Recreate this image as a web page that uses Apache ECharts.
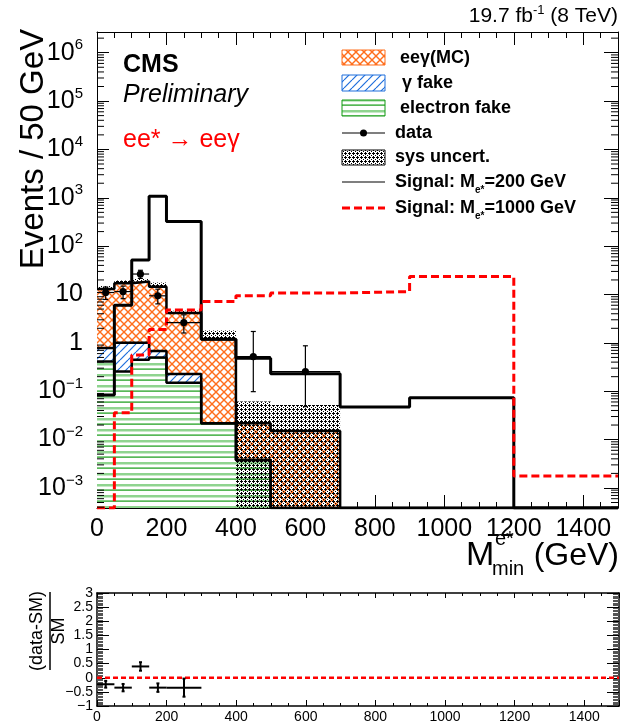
<!DOCTYPE html>
<html>
<head>
<meta charset="utf-8">
<script src="https://cdn.jsdelivr.net/npm/echarts@6.0.0/dist/echarts.min.js"></script>
<style>
html,body{margin:0;padding:0;background:#ffffff;}
#chart{width:627px;height:724px;}
</style>
</head>
<body>
<div id="chart"></div>
<script>
// ---------------- data ----------------
const binEdges     = [0, 50, 100, 150, 200, 300, 400, 500, 700, 900, 1200, 1500];
const electronFake = [0.41, 0.255, 0.45, 0.50, 0.15, 0.0217, 0.0038, 0, 0, 0, 0];
const gammaFake    = [0.37, 0.75, 0.55, 0.18, 0.078, 0, 0, 0, 0, 0, 0];
const eegammaMC    = [12.2, 16.0, 17.5, 13.8, 3.9, 1.17, 0.0179, 0.015, 0, 0, 0];
const sysUpper     = [15.0, 19.5, 21.0, 17.7, 4.6, 1.8, 0.061, 0.052, 0, 0, 0];
const sysLower     = [13.0, 17.0, 18.5, 14.5, 4.1, 1.19, 0, 0, 0, 0, 0];
const signal200    = [0.084, 6.0, 52, 1070, 325, 1.19, 0.48, 0.23, 0.047, 0.073, 0];
const signal1000   = [0, 0.036, 0.56, 1.9, 4.8, 7.2, 9.4, 10.7, 11.5, 23.6, 0.00176];
const dataX        = [25, 75, 125, 175, 250, 450, 600];
const dataXErr     = [25, 25, 25, 25, 50, 50, 100];
const dataY        = [11, 11.5, 26.5, 9.4, 2.63, 0.52, 0.255];
const dataYLow     = [7.9, 8.2, 21.5, 6.4, 1.6, 0.098, 0.048];
const dataYHigh    = [14.3, 14.9, 31.7, 12.9, 3.8, 1.72, 0.87];
const ratioX       = [25, 75, 125, 175, 250];
const ratioXErr    = [25, 25, 25, 25, 50];
const ratioY       = [-0.23, -0.35, 0.40, -0.35, -0.35];
const ratioYErr    = [0.12, 0.13, 0.15, 0.15, 0.32];
const xTickValues  = [0, 200, 400, 600, 800, 1000, 1200, 1400];
const ratioYTicks  = [-1, -0.5, 0, 0.5, 1, 1.5, 2, 2.5, 3];

// ---------------- helpers ----------------
const FONT = "'Liberation Sans', Arial, Helvetica, sans-serif";
const X_MIN = 0, X_MAX = 1500;
const Y_MIN = 3.85e-4, Y_MAX = 2.68e6;

function canvasPattern(w, h, draw) {
  const c = document.createElement('canvas');
  c.width = w; c.height = h;
  draw(c.getContext('2d'), w, h);
  return { image: c, repeat: 'repeat' };
}
const orangePat = canvasPattern(8, 8, (g, w, h) => {
  g.fillStyle = '#ffffff'; g.fillRect(0, 0, w, h);
  g.strokeStyle = '#ff6e1c'; g.lineWidth = 1.4;
  for (const o of [-w, 0, w]) {
    g.beginPath(); g.moveTo(o, 0); g.lineTo(o + w, h); g.stroke();
    g.beginPath(); g.moveTo(o, h); g.lineTo(o + w, 0); g.stroke();
  }
});
const bluePat = canvasPattern(8, 8, (g, w, h) => {
  g.fillStyle = '#ffffff'; g.fillRect(0, 0, w, h);
  g.strokeStyle = '#1f6fdc'; g.lineWidth = 1.2;
  for (const o of [-w, 0, w]) {
    g.beginPath(); g.moveTo(o, h); g.lineTo(o + w, 0); g.stroke();
  }
});
const greenPat = canvasPattern(4, 11, (g, w, h) => {
  g.fillStyle = '#ffffff'; g.fillRect(0, 0, w, h);
  g.fillStyle = '#8fd48f'; g.fillRect(0, 0, w, 2.5);
  g.fillStyle = '#129a12'; g.fillRect(0, 5.5, w, 1.2);
});
const sysBits = ['0100', '1110', '0100', '0001'];
function sysDraw(bg) {
  return (g, w, h) => {
    if (bg) { g.fillStyle = bg; g.fillRect(0, 0, w, h); } else g.clearRect(0, 0, w, h);
    g.fillStyle = '#000000';
    for (let y = 0; y < h; y++) for (let x = 0; x < w; x++)
      if (sysBits[y][x] === '1') g.fillRect(x, y, 1, 1);
  };
}
const sysPat = canvasPattern(4, 4, sysDraw(null));
const sysPatLegend = canvasPattern(4, 4, sysDraw('#ffffff'));

function histPoints(vals) {
  const pts = [];
  for (let i = 0; i < vals.length; i++) {
    const v = vals[i] > 0 ? vals[i] : Y_MIN;
    pts.push([binEdges[i], v], [binEdges[i + 1], v]);
  }
  return pts;
}
function cumulate(...layers) {
  return layers[0].map((_, i) => layers.reduce((s, l) => s + l[i], 0));
}
const stackGreen  = cumulate(electronFake);
const stackBlue   = cumulate(electronFake, gammaFake);
const stackOrange = cumulate(electronFake, gammaFake, eegammaMC);

const bandData = [];
for (let i = 0; i < sysUpper.length; i++) {
  if (sysUpper[i] > 0) bandData.push([binEdges[i], binEdges[i + 1], sysLower[i] > 0 ? sysLower[i] : Y_MIN, sysUpper[i]]);
}
const pointData = dataX.map((x, i) => [x, dataY[i], dataXErr[i], dataYLow[i], dataYHigh[i]]);
const ratioData = ratioX.map((x, i) => [x, ratioY[i], ratioXErr[i], ratioY[i] - ratioYErr[i], ratioY[i] + ratioYErr[i]]);

const minorLogTicks = [];
for (let k = -4; k <= 6; k++) for (let m = 2; m <= 9; m++) {
  const v = m * Math.pow(10, k);
  if (v > Y_MIN && v < Y_MAX) minorLogTicks.push([0, v]);
}

function errorBarItem(lineW, capW, dotR) {
  return function (params, api) {
    const x = api.value(0), y = api.value(1), xe = api.value(2), yl = api.value(3), yh = api.value(4);
    const c = api.coord([x, y]);
    const l = api.coord([x - xe, y]), r = api.coord([x + xe, y]);
    const t = api.coord([x, yh]), b = api.coord([x, yl]);
    const st = { stroke: '#000', lineWidth: lineW };
    const ch = [
      { type: 'line', shape: { x1: l[0], y1: l[1], x2: r[0], y2: r[1] }, style: st },
      { type: 'line', shape: { x1: t[0], y1: t[1], x2: b[0], y2: b[1] }, style: st },
      { type: 'line', shape: { x1: t[0] - capW, y1: t[1], x2: t[0] + capW, y2: t[1] }, style: st },
      { type: 'line', shape: { x1: b[0] - capW, y1: b[1], x2: b[0] + capW, y2: b[1] }, style: st }
    ];
    if (dotR > 0) ch.push({ type: 'circle', shape: { cx: c[0], cy: c[1], r: dotR }, style: { fill: '#000' } });
    return { type: 'group', children: ch };
  };
}

function histSeries(name, vals, lineStyle, area, z) {
  const s = {
    name, type: 'line', xAxisIndex: 0, yAxisIndex: 0, data: histPoints(vals),
    symbol: 'none', showSymbol: false, silent: true, animation: false, z: z,
    lineStyle: lineStyle
  };
  if (area) s.areaStyle = { color: area, opacity: 1, origin: 'start' };
  return s;
}

function logLabel(v) {
  const e = Math.log10(v), r = Math.round(e);
  if (Math.abs(e - r) > 1e-6) return '';
  if (r === 0) return '{b|1}';
  if (r === 1) return '{b|10}';
  return '{b|10}{s|' + (r < 0 ? '\u2212' + (-r) : r) + '}';
}

const option = {
  backgroundColor: '#ffffff',
  animation: false,
  grid: [
    { left: 97, top: 32, width: 521, height: 476 },
    { left: 97, top: 593, width: 522, height: 116 }
  ],
  xAxis: [
    { type: 'value', gridIndex: 0, min: X_MIN, max: X_MAX, interval: 200, position: 'bottom',
      axisLine: { show: true, onZero: false, lineStyle: { color: '#000', width: 1 } },
      axisTick: { show: true, inside: true, length: 13, lineStyle: { color: '#000', width: 1 } },
      minorTick: { show: true, splitNumber: 4, length: 6, lineStyle: { color: '#000', width: 1 } },
      axisLabel: { show: true, margin: 9, fontSize: 25, fontFamily: FONT, color: '#000',
        showMaxLabel: false, formatter: v => xTickValues.includes(v) ? String(v) : '' },
      splitLine: { show: false } },
    { type: 'value', gridIndex: 0, min: X_MIN, max: X_MAX, interval: 200, position: 'top',
      axisLine: { show: true, onZero: false, lineStyle: { color: '#000', width: 1 } },
      axisTick: { show: true, inside: true, length: 13, lineStyle: { color: '#000', width: 1 } },
      minorTick: { show: true, splitNumber: 4, length: 6, lineStyle: { color: '#000', width: 1 } },
      axisLabel: { show: false }, splitLine: { show: false } },
    { type: 'value', gridIndex: 1, min: X_MIN, max: X_MAX, interval: 200, position: 'bottom',
      axisLine: { show: true, onZero: false, lineStyle: { color: '#000', width: 1.5 } },
      axisTick: { show: true, inside: true, length: 6, lineStyle: { color: '#000', width: 1 } },
      minorTick: { show: true, splitNumber: 4, length: 3, lineStyle: { color: '#000', width: 1 } },
      axisLabel: { show: true, margin: 4, fontSize: 14, fontFamily: FONT, color: '#000',
        showMaxLabel: false, formatter: v => xTickValues.includes(v) ? String(v) : '' },
      splitLine: { show: false } },
    { type: 'value', gridIndex: 1, min: X_MIN, max: X_MAX, interval: 200, position: 'top',
      axisLine: { show: true, onZero: false, lineStyle: { color: '#000', width: 1.5 } },
      axisTick: { show: true, inside: true, length: 5, lineStyle: { color: '#000', width: 1 } },
      minorTick: { show: true, splitNumber: 4, length: 3, lineStyle: { color: '#000', width: 1 } },
      axisLabel: { show: false }, splitLine: { show: false } }
  ],
  yAxis: [
    { type: 'log', gridIndex: 0, logBase: 10, min: Y_MIN, max: Y_MAX, position: 'left',
      axisLine: { show: true, onZero: false, lineStyle: { color: '#000', width: 1 } },
      axisTick: { show: true, inside: true, length: 12, lineStyle: { color: '#000', width: 1 } },
      minorTick: { show: false },
      axisLabel: { show: true, margin: 14, formatter: logLabel,
        rich: {
          b: { fontSize: 25, fontFamily: FONT, color: '#000', lineHeight: 30 },
          s: { fontSize: 15, fontFamily: FONT, color: '#000', lineHeight: 15, verticalAlign: 'top' }
        } },
      splitLine: { show: false } },
    { type: 'log', gridIndex: 0, logBase: 10, min: Y_MIN, max: Y_MAX, position: 'right',
      axisLine: { show: true, onZero: false, lineStyle: { color: '#000', width: 1 } },
      axisTick: { show: true, inside: true, length: 14, lineStyle: { color: '#000', width: 1 } },
      axisLabel: { show: false }, splitLine: { show: false } },
    { type: 'value', gridIndex: 1, min: -1, max: 3, interval: 0.5, position: 'left',
      axisLine: { show: true, onZero: false, lineStyle: { color: '#000', width: 1.5 } },
      axisTick: { show: true, inside: true, length: 12, lineStyle: { color: '#000', width: 1 } },
      minorTick: { show: true, splitNumber: 10, length: 6, lineStyle: { color: '#555', width: 1 } },
      axisLabel: { show: true, interval: 0, margin: 4, fontSize: 14, lineHeight: 14, fontFamily: FONT, color: '#000',
        showMinLabel: true, showMaxLabel: true, hideOverlap: false,
        formatter: v => ratioYTicks.includes(v) ? String(v).replace('-', '\u2212') : '' },
      splitLine: { show: false } },
    { type: 'value', gridIndex: 1, min: -1, max: 3, interval: 0.5, position: 'right',
      axisLine: { show: true, onZero: false, lineStyle: { color: '#000', width: 1.5 } },
      axisTick: { show: true, inside: true, length: 12, lineStyle: { color: '#000', width: 1 } },
      minorTick: { show: true, splitNumber: 10, length: 6, lineStyle: { color: '#555', width: 1 } },
      axisLabel: { show: false }, splitLine: { show: false } }
  ],
  series: [
    histSeries('eeγ(MC)', stackOrange, { color: '#000', width: 2.5 }, orangePat, 2),
    histSeries('γ fake', stackBlue, { color: '#000', width: 2.5 }, bluePat, 2),
    histSeries('electron fake', stackGreen, { color: '#000', width: 2.5 }, greenPat, 2),
    { name: 'sys uncert.', type: 'custom', xAxisIndex: 0, yAxisIndex: 0, clip: true, z: 3, silent: true,
      data: bandData,
      renderItem: function (params, api) {
        const p1 = api.coord([api.value(0), api.value(3)]);
        const p2 = api.coord([api.value(1), api.value(2)]);
        return { type: 'rect', shape: { x: p1[0], y: p1[1], width: p2[0] - p1[0], height: p2[1] - p1[1] },
          style: { fill: sysPat } };
      } },
    histSeries('Signal 200', signal200, { color: '#000', width: 3 }, null, 4),
    histSeries('Signal 1000', signal1000, { color: '#ff0000', width: 3, type: [8, 4] }, null, 5),
    { name: 'data', type: 'custom', xAxisIndex: 0, yAxisIndex: 0, clip: true, z: 6, silent: true,
      data: pointData, renderItem: errorBarItem(1.2, 2.5, 3.6) },
    { name: 'log minor ticks', type: 'custom', xAxisIndex: 0, yAxisIndex: 0, z: 7, silent: true,
      data: minorLogTicks,
      renderItem: function (params, api) {
        const p = api.coord([X_MIN, api.value(1)]), q = api.coord([X_MAX, api.value(1)]);
        const st = { stroke: '#000', lineWidth: 1 };
        return { type: 'group', children: [
          { type: 'line', shape: { x1: p[0], y1: p[1], x2: p[0] + 7, y2: p[1] }, style: st },
          { type: 'line', shape: { x1: q[0] - 7, y1: q[1], x2: q[0], y2: q[1] }, style: st }
        ] };
      } },
    { name: 'zero', type: 'line', xAxisIndex: 2, yAxisIndex: 2, data: [[X_MIN, 0], [X_MAX, 0]],
      symbol: 'none', silent: true, z: 3, lineStyle: { color: '#ff0000', width: 2.5, type: [5, 3] } },
    { name: 'ratio', type: 'custom', xAxisIndex: 2, yAxisIndex: 2, clip: true, z: 6, silent: true,
      data: ratioData, renderItem: errorBarItem(2, 1.5, 0) }
  ],
  graphic: [
    { type: 'text', x: 618, y: 16, style: { text: '{a|19.7 fb}{s|-1}{a| (8 TeV)}', align: 'right', verticalAlign: 'middle',
      rich: { a: { fontSize: 21, fontFamily: FONT, fill: '#000', lineHeight: 24 },
              s: { fontSize: 13, fontFamily: FONT, fill: '#000', lineHeight: 13, verticalAlign: 'top' } } } },
    { type: 'text', x: 123, y: 65, style: { text: 'CMS', fontSize: 25, fontWeight: 'bold', fontFamily: FONT, fill: '#000', verticalAlign: 'middle' } },
    { type: 'text', x: 123, y: 95, style: { text: 'Preliminary', fontSize: 25, fontStyle: 'italic', fontFamily: FONT, fill: '#000', verticalAlign: 'middle' } },
    { type: 'text', x: 123, y: 140, style: { text: 'ee* \u2192 ee\u03b3', fontSize: 25, fontFamily: FONT, fill: '#ff0000', verticalAlign: 'middle' } },
    { type: 'text', x: 34, y: 149, rotation: Math.PI / 2, style: { text: 'Events / 50 GeV', fontSize: 33, fontFamily: FONT, fill: '#000', align: 'center', verticalAlign: 'middle' } },
    { type: 'text', x: 466, y: 556, style: { text: 'M', fontSize: 34, fontFamily: FONT, fill: '#000', verticalAlign: 'middle' } },
    { type: 'text', x: 495, y: 539, style: { text: 'e*', fontSize: 20, fontFamily: FONT, fill: '#000', verticalAlign: 'middle' } },
    { type: 'text', x: 492, y: 569, style: { text: 'min', fontSize: 20, fontFamily: FONT, fill: '#000', verticalAlign: 'middle' } },
    { type: 'text', x: 619, y: 556, style: { text: '(GeV)', fontSize: 32, fontFamily: FONT, fill: '#000', align: 'right', verticalAlign: 'middle' } },
    // ratio y title
    { type: 'text', x: 37, y: 631, rotation: Math.PI / 2, style: { text: '(data-SM)', fontSize: 18, fontFamily: FONT, fill: '#000', align: 'center', verticalAlign: 'middle' } },
    { type: 'line', shape: { x1: 50, y1: 592, x2: 50, y2: 670 }, style: { stroke: '#000', lineWidth: 1.5 } },
    { type: 'text', x: 59, y: 631, rotation: Math.PI / 2, style: { text: 'SM', fontSize: 18, fontFamily: FONT, fill: '#000', align: 'center', verticalAlign: 'middle' } },
    // legend
    { type: 'rect', shape: { x: 342, y: 50, width: 43, height: 15 }, style: { fill: orangePat, stroke: '#ff6e1c', lineWidth: 1 } },
    { type: 'text', x: 400, y: 58, style: { text: 'ee\u03b3(MC)', fontSize: 18, fontWeight: 'bold', fontFamily: FONT, fill: '#000', verticalAlign: 'middle' } },
    { type: 'rect', shape: { x: 342, y: 75, width: 43, height: 16 }, style: { fill: bluePat, stroke: '#1f6fdc', lineWidth: 1 } },
    { type: 'text', x: 402, y: 83, style: { text: '\u03b3 fake', fontSize: 18, fontWeight: 'bold', fontFamily: FONT, fill: '#000', verticalAlign: 'middle' } },
    { type: 'rect', shape: { x: 342, y: 100, width: 43, height: 16 }, style: { fill: greenPat, stroke: '#129a12', lineWidth: 1 } },
    { type: 'text', x: 400, y: 108, style: { text: 'electron fake', fontSize: 18, fontWeight: 'bold', fontFamily: FONT, fill: '#000', verticalAlign: 'middle' } },
    { type: 'line', shape: { x1: 342, y1: 133, x2: 385, y2: 133 }, style: { stroke: '#000', lineWidth: 1.2 } },
    { type: 'circle', shape: { cx: 363.5, cy: 133, r: 3.5 }, style: { fill: '#000' } },
    { type: 'text', x: 395, y: 133, style: { text: 'data', fontSize: 18, fontWeight: 'bold', fontFamily: FONT, fill: '#000', verticalAlign: 'middle' } },
    { type: 'rect', shape: { x: 342, y: 150, width: 43, height: 15 }, style: { fill: sysPatLegend, stroke: '#000', lineWidth: 1 } },
    { type: 'text', x: 395, y: 157, style: { text: 'sys uncert.', fontSize: 18, fontWeight: 'bold', fontFamily: FONT, fill: '#000', verticalAlign: 'middle' } },
    { type: 'line', shape: { x1: 342, y1: 182, x2: 385, y2: 182 }, style: { stroke: '#555', lineWidth: 1.5 } },
    { type: 'text', x: 395, y: 182, style: { text: '{t|Signal: M}{u|e*}{t|=200 GeV}', verticalAlign: 'middle',
      rich: { t: { fontSize: 18, fontWeight: 'bold', fontFamily: FONT, fill: '#000', lineHeight: 26 },
              u: { fontSize: 10, fontWeight: 'bold', fontFamily: FONT, fill: '#000', lineHeight: 10, verticalAlign: 'bottom' } } } },
    { type: 'line', shape: { x1: 342, y1: 208, x2: 385, y2: 208 }, style: { stroke: '#ff0000', lineWidth: 3, lineDash: [8, 4] } },
    { type: 'text', x: 395, y: 208, style: { text: '{t|Signal: M}{u|e*}{t|=1000 GeV}', verticalAlign: 'middle',
      rich: { t: { fontSize: 18, fontWeight: 'bold', fontFamily: FONT, fill: '#000', lineHeight: 26 },
              u: { fontSize: 10, fontWeight: 'bold', fontFamily: FONT, fill: '#000', lineHeight: 10, verticalAlign: 'bottom' } } } }
  ]
};

const chart = echarts.init(document.getElementById('chart'), null, { renderer: 'canvas' });
chart.setOption(option);
</script>
</body>
</html>
